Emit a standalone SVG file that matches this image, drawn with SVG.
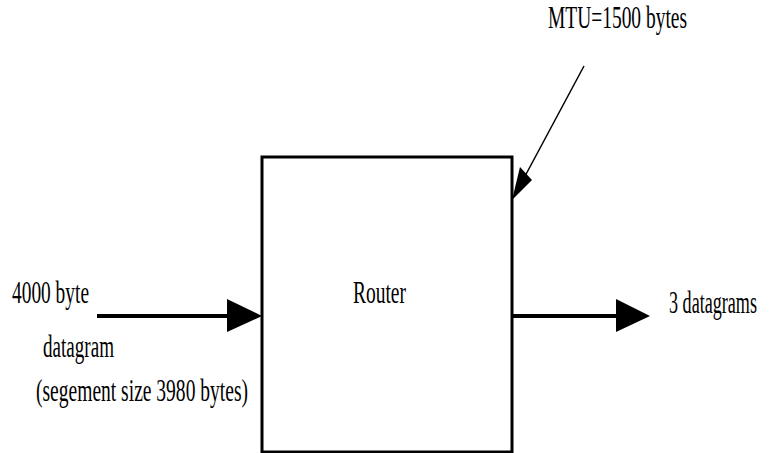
<svg xmlns="http://www.w3.org/2000/svg" width="769" height="453" viewBox="0 0 769 453">
<style>
text{font-family:"Liberation Serif","Times New Roman",serif;font-size:31px;fill:#000}
.thick{stroke:#000;stroke-width:4;fill:none}
.thin{stroke:#000;stroke-width:1.5;fill:none}
</style>
<rect width="769" height="453" fill="#fff"/>
<g id="router">
<rect x="262" y="157" width="250" height="295" fill="#fff" stroke="#000" stroke-width="3"/>
<text x="353" y="303" textLength="53" lengthAdjust="spacingAndGlyphs">Router</text>
</g>
<g id="input-label">
<text x="12" y="303" textLength="77" lengthAdjust="spacingAndGlyphs">4000 byte</text>
<text x="43" y="357" textLength="71" lengthAdjust="spacingAndGlyphs">datagram</text>
<text x="36" y="401" textLength="212" lengthAdjust="spacingAndGlyphs">(segement size 3980 bytes)</text>
</g>
<g id="output-label">
<text x="669" y="313" textLength="88" lengthAdjust="spacingAndGlyphs">3 datagrams</text>
</g>
<g id="mtu-label">
<text x="548" y="28" textLength="139" lengthAdjust="spacingAndGlyphs">MTU=1500 bytes</text>
</g>
<g id="connectors">
<line class="thick" x1="97" y1="316" x2="230" y2="316"/>
<polygon points="227,299 262,316 227,332" fill="#000"/>
<line class="thick" x1="512" y1="316" x2="620" y2="316"/>
<polygon points="616,299 650,316 616,332" fill="#000"/>
<line class="thin" x1="584" y1="66" x2="524" y2="178"/>
<polygon points="520,167 532,180 512,200" fill="#000"/>
</g>
</svg>
